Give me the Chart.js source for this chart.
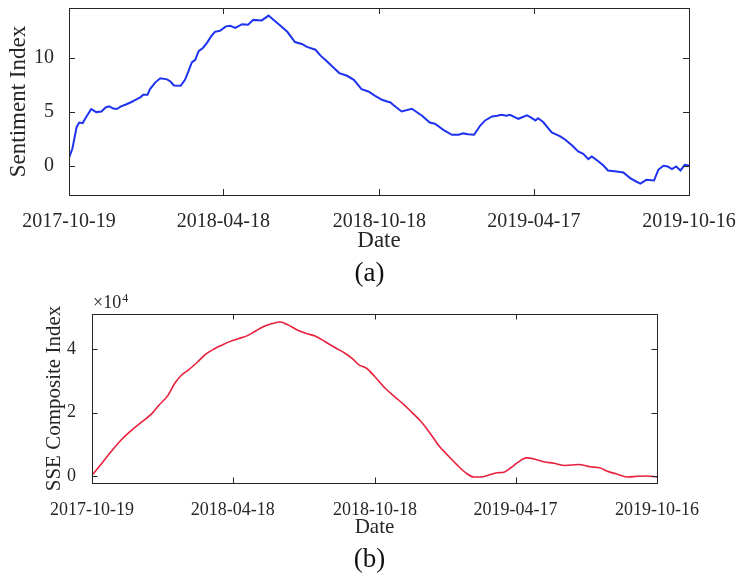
<!DOCTYPE html>
<html>
<head>
<meta charset="utf-8">
<script src="https://cdn.jsdelivr.net/npm/chart.js@4.4.1/dist/chart.umd.min.js"></script>
<style>
  body { margin: 0; background: #fff; width: 739px; height: 578px; position: relative; overflow: hidden; font-family: "Liberation Serif", serif; }
  .panel { position: absolute; left: 0; width: 739px; }
  .cap { position: absolute; left: 0; width: 739px; text-align: center; font-size: 27px; line-height: 30px; color: #111; }
</style>
</head>
<body>
<div class="panel" style="top:0;height:260px"><canvas id="chartA" width="739" height="260"></canvas></div>
<div class="cap" style="top:257px">(a)</div>
<div class="panel" style="top:290px;height:260px"><canvas id="chartB" width="739" height="260"></canvas></div>
<div class="cap" style="top:543px">(b)</div>
<script>
// 日期刻度 (x 軸以距 2017-10-19 的天數表示)
const tickDays = [0, 181, 364, 545, 727];
const tickLabels = ['2017-10-19', '2018-04-18', '2018-10-18', '2019-04-17', '2019-10-16'];

// (a) 情緒指數
const sentDays = [0,4,9,12,16,20,26,32,38,43,
  47,52,56,61,66,72,78,84,87,92,
  95,101,107,115,119,123,131,136,140,144,
  148,152,157,162,166,171,177,184,189,195,
  203,210,216,226,234,240,248,256,265,273,
  279,289,295,302,310,317,326,334,343,351,
  359,367,373,377,380,390,402,414,423,429,
  439,449,457,462,468,475,482,488,496,502,
  507,513,517,527,537,541,547,550,556,566,
  576,582,590,597,603,609,613,621,627,632,
  642,650,658,665,670,677,686,691,697,702,
  707,712,717,722,727];
const sentiment = [0.74,1.6,3.6,4.0,3.95,4.5,5.25,4.97,5.03,5.4,
  5.5,5.3,5.25,5.5,5.65,5.86,6.1,6.36,6.57,6.57,
  7.1,7.7,8.1,8.0,7.8,7.43,7.4,7.96,8.73,9.57,
  9.8,10.6,10.9,11.4,11.9,12.4,12.5,12.9,12.96,12.75,
  13.1,13.06,13.5,13.45,13.9,13.5,12.96,12.4,11.45,11.27,
  11.0,10.74,10.19,9.7,9.1,8.58,8.33,7.96,7.1,6.88,
  6.48,6.11,5.95,5.86,5.65,5.03,5.28,4.63,4.0,3.89,
  3.33,2.87,2.87,3.0,2.93,2.87,3.7,4.2,4.57,4.63,
  4.72,4.63,4.72,4.35,4.66,4.5,4.2,4.4,4.05,3.09,
  2.72,2.41,1.88,1.33,1.11,0.62,0.86,0.4,0.0,-0.43,
  -0.52,-0.62,-1.14,-1.45,-1.64,-1.3,-1.36,-0.37,0.0,-0.06,
  -0.3,-0.06,-0.43,0.09,0.03];
const sentTicks = [0, 5, 10];

// (b) 上證綜指 (單位 ×10^4)
const sseDays = [0,13,26,39,51,64,77,86,97,107,
  116,124,137,146,157,167,178,189,200,210,
  221,232,242,253,264,277,287,300,313,326,
  335,343,354,364,378,390,401,412,423,431,
  440,448,459,470,481,491,500,511,521,530,
  539,547,559,571,581,594,609,626,641,654,
  663,674,689,702,714,727];
const sseIndex = [0.03,0.42,0.82,1.18,1.45,1.71,1.97,2.23,2.52,2.94,
  3.2,3.34,3.62,3.83,4.0,4.12,4.24,4.33,4.42,4.56,
  4.71,4.8,4.85,4.75,4.6,4.48,4.41,4.23,4.04,3.86,
  3.7,3.51,3.38,3.13,2.75,2.49,2.26,2.0,1.73,1.49,
  1.18,0.91,0.63,0.35,0.11,-0.02,-0.02,0.04,0.11,0.13,
  0.27,0.42,0.58,0.53,0.46,0.41,0.34,0.37,0.3,0.26,
  0.16,0.08,-0.02,0.0,0.01,-0.02];
const sseTicks = [0, 2, 4];

const FONT = '"Liberation Serif", "Times New Roman", serif';
const INK = '#262626';

// 外框 + 朝內的刻度線 (MATLAB 風格)
const boxTicks = {
  id: 'boxTicks',
  afterDatasetsDraw(chart, args, opts) {
    const { ctx, chartArea: a, scales } = chart;
    const L = opts.len;
    ctx.save();
    ctx.strokeStyle = INK;
    ctx.lineWidth = 1;
    ctx.beginPath();
    scales.x.ticks.forEach(t => {
      const px = Math.round(scales.x.getPixelForValue(t.value)) + 0.5;
      ctx.moveTo(px, a.bottom); ctx.lineTo(px, a.bottom - L);
      ctx.moveTo(px, a.top); ctx.lineTo(px, a.top + L);
    });
    scales.y.ticks.forEach(t => {
      const py = Math.round(scales.y.getPixelForValue(t.value)) + 0.5;
      ctx.moveTo(a.left, py); ctx.lineTo(a.left + L, py);
      ctx.moveTo(a.right, py); ctx.lineTo(a.right - L, py);
    });
    ctx.stroke();
    ctx.strokeRect(Math.round(a.left) + 0.5, Math.round(a.top) + 0.5, Math.round(a.width), Math.round(a.height));
    if (opts.exp) {
      ctx.fillStyle = INK;
      ctx.textBaseline = 'alphabetic';
      ctx.font = '18px ' + FONT;
      ctx.fillText('×10', a.left + 1, a.top - 6);
      const w = ctx.measureText('×10').width;
      ctx.font = '12px ' + FONT;
      ctx.fillText('4', a.left + 1 + w + 1, a.top - 12);
    }
    ctx.restore();
  }
};

function makeChart(id, days, values, o) {
  new Chart(document.getElementById(id), {
    type: 'line',
    data: {
      datasets: [{
        data: days.map((d, i) => ({ x: d, y: values[i] })),
        borderColor: o.color,
        borderWidth: o.lineWidth,
        pointRadius: 0,
        fill: false,
        tension: o.tension,
        cubicInterpolationMode: o.tension ? 'monotone' : 'default'
      }]
    },
    options: {
      responsive: false,
      animation: false,
      layout: { padding: { top: o.padTop, right: o.padRight, left: 0, bottom: 0 } },
      plugins: {
        legend: { display: false },
        tooltip: { enabled: false },
        boxTicks: { len: o.tickLen, exp: o.exp }
      },
      scales: {
        x: {
          type: 'linear',
          min: 0, max: 727,
          afterBuildTicks: s => { s.ticks = tickDays.map(v => ({ value: v })); },
          afterFit: s => { s.height = o.xHeight; s.paddingLeft = 0; s.paddingRight = 0; },
          grid: { display: false },
          border: { display: false },
          ticks: {
            autoSkip: false, maxRotation: 0, padding: o.xTickPad,
            color: INK, font: { family: FONT, size: o.tickSize },
            callback: (v, i) => tickLabels[i]
          },
          title: {
            display: true, text: 'Date', color: INK,
            font: { family: FONT, size: o.titleSize },
            padding: { top: 0, bottom: o.xTitlePad }
          }
        },
        y: {
          min: o.yMin, max: o.yMax,
          afterBuildTicks: s => { s.ticks = o.yTicks.map(v => ({ value: v })); },
          afterFit: s => { s.width = o.yWidth; s.paddingTop = 0; s.paddingBottom = 0; },
          grid: { display: false },
          border: { display: false },
          ticks: {
            padding: o.yTickPad, color: INK,
            font: { family: FONT, size: o.tickSize },
            callback: v => String(v)
          },
          title: {
            display: true, text: o.yTitle, color: INK,
            font: { family: FONT, size: o.titleSize },
            padding: { top: o.yTitlePad, bottom: 0 }
          }
        }
      }
    },
    plugins: [boxTicks]
  });
}

makeChart('chartA', sentDays, sentiment, {
  color: '#1f33ef', lineWidth: 2, tension: 0,
  padTop: 8, padRight: 50, xHeight: 65, yWidth: 69,
  tickSize: 20, titleSize: 23, xTickPad: 7, yTickPad: 7,
  xTitlePad: 5, yTitlePad: 5,
  yMin: -2.7, yMax: 14.6, yTicks: sentTicks,
  yTitle: 'Sentiment Index', tickLen: 6, exp: false
});

makeChart('chartB', sseDays, sseIndex, {
  color: '#e8203c', lineWidth: 1.6, tension: 0.4,
  padTop: 24, padRight: 82, xHeight: 67, yWidth: 92,
  tickSize: 18, titleSize: 21, xTickPad: 8, yTickPad: 8,
  xTitlePad: 10, yTitlePad: 42,
  yMin: -0.21, yMax: 5.1, yTicks: sseTicks,
  yTitle: 'SSE Composite Index', tickLen: 5.5, exp: true
});
</script>
</body>
</html>
